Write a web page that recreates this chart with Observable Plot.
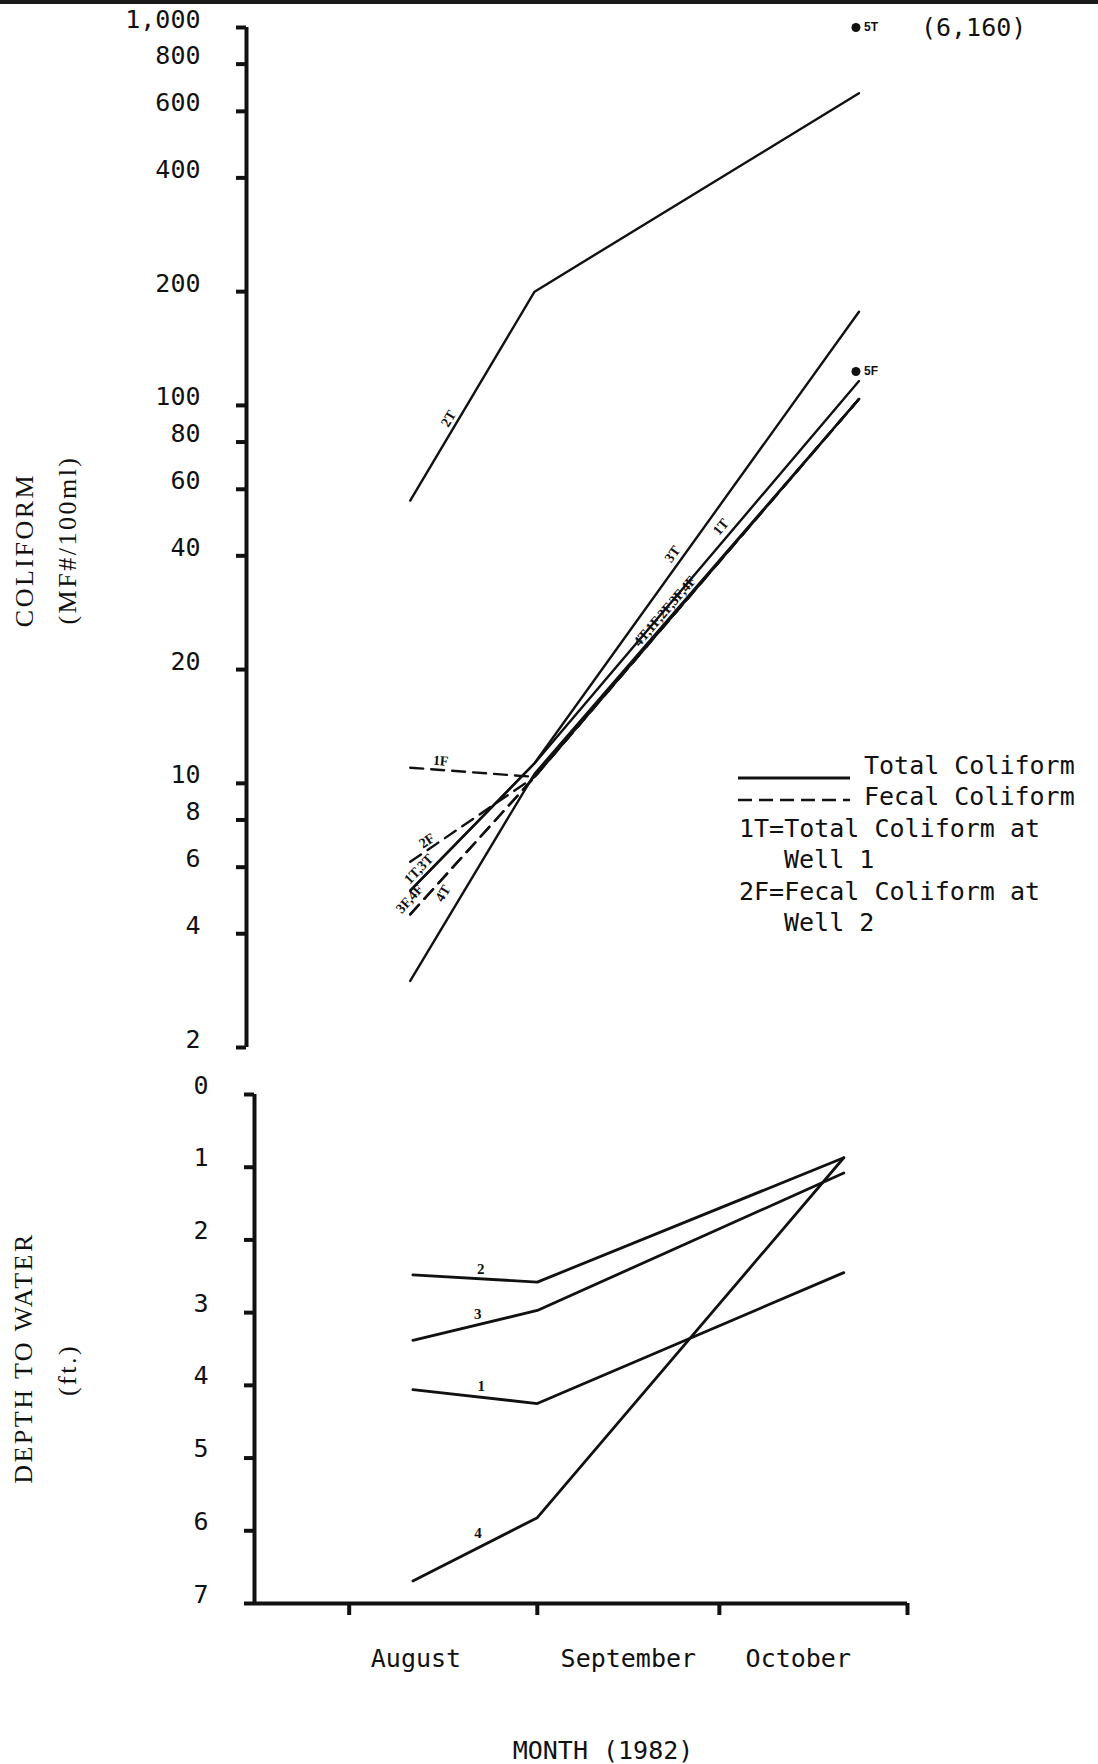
<!DOCTYPE html>
<html>
<head>
<meta charset="utf-8">
<script src="https://cdn.jsdelivr.net/npm/d3@7"></script>
<script src="https://cdn.jsdelivr.net/npm/@observablehq/plot@0.6"></script>
<style>
html,body{margin:0;padding:0;background:#fff;}
#root{position:relative;width:1098px;height:1764px;overflow:hidden;background:#fff;}
.abs{position:absolute;white-space:pre;color:#111;line-height:1;}
.mono{font-family:"DejaVu Sans Mono",monospace;font-size:25px;}
.serif{font-family:"Liberation Serif",serif;font-size:26px;letter-spacing:2.5px;}
.vt{transform:translate(-50%,-50%) rotate(-90deg);}
.lg{transform:translateY(-50%);}
.panel{position:absolute;left:0;}
</style>
</head>
<body>
<div id="root"></div>
<script>
// ---------------- data ----------------
const months = ["August", "September", "October"];
const monthStartDays = [0, 31, 61, 92];      // Aug 1, Sep 1, Oct 1, Nov 1 (days since Aug 1, 1982)
const monthLabelDays = [11, 46, 74];
const coliformDays = [10, 30.5, 84];          // sampling days, coliform
const depthDays = [10.5, 31, 81.5];           // measuring days, depth to water

// Total coliform (MF#/100ml) at wells 1-4
const total1 = [5.2, 11.3, 116];
const total2 = [56, 200, 670];
const total3 = [5.2, 11.3, 177];
const total4 = [3.0, 10.6, 104];
// Fecal coliform at wells 1-4
const fecal1 = [11.0, 10.4, 104];
const fecal2 = [6.2, 10.4, 104];
const fecal3 = [4.5, 10.4, 104];
const fecal4 = [4.5, 10.4, 104];
// Well 5 (October only)
const well5Day = 83.5;
const total5 = 6160;
const fecal5 = 123;

// Depth to water (ft.)
const depth1 = [4.06, 4.25, 2.45];
const depth2 = [2.48, 2.58, 0.87];
const depth3 = [3.38, 2.97, 1.08];
const depth4 = [6.69, 5.82, 0.87];

const coliformTicks = [1000, 800, 600, 400, 200, 100, 80, 60, 40, 20, 10, 8, 6, 4, 2];
const depthTicks = [0, 1, 2, 3, 4, 5, 6, 7];

// ---------------- layout ----------------
const W = 1098;
const ink = "#111";
const topCfg = {height: 1064, marginTop: 27, marginBottom: 17, marginLeft: 246, marginRight: 191};
const topX = [-17, 92];
const topY = [2, 1000];
const botCfg = {offset: 1060, height: 704, marginTop: 34, marginBottom: 161, marginLeft: 254, marginRight: 191};
const botX = [-15.6, 92];
const botY = [0, 7];

const xsT = d3.scaleLinear(topX, [topCfg.marginLeft, W - topCfg.marginRight]);
const ysT = d3.scaleLog(topY, [topCfg.height - topCfg.marginBottom, topCfg.marginTop]);
const xsB = d3.scaleLinear(botX, [botCfg.marginLeft, W - botCfg.marginRight]);
const ysB = d3.scaleLinear(botY, [botCfg.marginTop, botCfg.height - botCfg.marginBottom]);

function rows(map, days, key) {
  return Object.entries(map).flatMap(([name, vals]) =>
    vals.map((v, i) => ({series: name, day: days[i], [key]: v})));
}
const totalRows = rows({"1T": total1, "2T": total2, "3T": total3, "4T": total4}, coliformDays, "value");
const fecalRows = rows({"1F": fecal1, "2F": fecal2, "3F": fecal3, "4F": fecal4}, coliformDays, "value");
const depthRows = rows({"1": depth1, "2": depth2, "3": depth3, "4": depth4}, depthDays, "depth");

function segLabel(spec, days, xs, ys, rotate) {
  const i = spec.seg || 0;
  const x0 = xs(days[i]), y0 = ys(spec.values[i]);
  const x1 = xs(days[i + 1]), y1 = ys(spec.values[i + 1]);
  const dx = x1 - x0, dy = y1 - y0, len = Math.hypot(dx, dy);
  const nx = dy / len, ny = -dx / len;
  const px = x0 + dx * spec.t + nx * spec.off, py = y0 + dy * spec.t + ny * spec.off;
  return {text: spec.text, x: xs.invert(px), y: ys.invert(py),
          angle: rotate ? Math.atan2(dy, dx) * 180 / Math.PI : 0};
}

const topLabelSpecs = [
  {text: "2T", values: total2, seg: 0, t: 0.37, off: 9},
  {text: "3T", values: total3, seg: 1, t: 0.45, off: 10},
  {text: "1T", values: total1, seg: 1, t: 0.60, off: 11},
  {text: "4T,1F,2F,3F,4F", values: total4, seg: 1, t: 0.42, off: 8},
  {text: "1F", values: fecal1, seg: 0, t: 0.24, off: 9},
  {text: "2F", values: fecal2, seg: 0, t: 0.17, off: 8},
  {text: "1T,3T", values: total1, seg: 0, t: 0.12, off: 9},
  {text: "3F,4F", values: fecal3, seg: 0, t: 0.06, off: 11},
  {text: "4T", values: total4, seg: 0, t: 0.38, off: 17}
];
const topLabels = topLabelSpecs.map(s => segLabel(s, coliformDays, xsT, ysT, true));

const botLabelSpecs = [
  {text: "1", values: depth1, seg: 0, t: 0.54, off: 11},
  {text: "2", values: depth2, seg: 0, t: 0.54, off: 10},
  {text: "3", values: depth3, seg: 0, t: 0.54, off: 10},
  {text: "4", values: depth4, seg: 0, t: 0.57, off: 13}
];
const botLabels = botLabelSpecs.map(s => segLabel(s, depthDays, xsB, ysB, false));

const well5 = [
  {label: "5T", day: well5Day, value: Math.min(total5, topY[1])},
  {label: "5F", day: well5Day, value: fecal5}
];

const font = "DejaVu Sans Mono";

// ---------------- top panel: coliform ----------------
const topPlot = Plot.plot({
  width: W, height: topCfg.height,
  marginTop: topCfg.marginTop, marginBottom: topCfg.marginBottom,
  marginLeft: topCfg.marginLeft, marginRight: topCfg.marginRight,
  style: {fontFamily: font, color: ink, background: "transparent", overflow: "visible"},
  x: {domain: topX, axis: null},
  y: {type: "log", domain: topY, axis: null},
  marks: [
    Plot.ruleX([topX[0]], {y1: topY[0], y2: topY[1], stroke: ink, strokeWidth: 4}),
    Plot.axisY({ticks: coliformTicks, tickSize: 10, strokeWidth: 4, tickFormat: () => "", label: null}),
    Plot.text(coliformTicks, {x: () => topX[0], y: d => d, text: d3.format(","), dx: -46, dy: -8,
                              textAnchor: "end", fontSize: 25, fill: ink}),
    Plot.line(fecalRows, {x: "day", y: "value", z: "series", stroke: ink, strokeWidth: 2.4,
                          strokeDasharray: "13,8"}),
    Plot.line(totalRows, {x: "day", y: "value", z: "series", stroke: ink, strokeWidth: 2.4}),
    Plot.dot(well5, {x: "day", y: "value", r: 4.5, fill: ink}),
    Plot.text(well5, {x: "day", y: "value", text: "label", dx: 8, textAnchor: "start",
                      fontSize: 12, fontWeight: "bold", fontFamily: "Liberation Sans"}),
    Plot.text([total5], {x: () => well5Day, y: () => topY[1], text: d => `(${d3.format(",")(d)})`,
                         dx: 65, textAnchor: "start", fontSize: 25}),
    Plot.text(topLabels, {x: "x", y: "y", text: "text", rotate: "angle", fontSize: 14,
                          fontWeight: "bold", fontFamily: "Liberation Serif"})
  ]
});

// ---------------- bottom panel: depth to water ----------------
const botPlot = Plot.plot({
  width: W, height: botCfg.height,
  marginTop: botCfg.marginTop, marginBottom: botCfg.marginBottom,
  marginLeft: botCfg.marginLeft, marginRight: botCfg.marginRight,
  style: {fontFamily: font, color: ink, background: "transparent", overflow: "visible"},
  x: {domain: botX},
  y: {domain: botY, reverse: true},
  marks: [
    Plot.ruleX([botX[0]], {y1: botY[0], y2: botY[1], stroke: ink, strokeWidth: 4}),
    Plot.ruleY([botY[1]], {x1: botX[0], x2: botX[1], stroke: ink, strokeWidth: 4}),
    Plot.axisY({ticks: depthTicks, tickSize: 10, strokeWidth: 4, tickFormat: () => "", label: null}),
    Plot.text(depthTicks, {x: () => botX[0], y: d => d, text: d => String(d), dx: -46, dy: -9,
                           textAnchor: "end", fontSize: 25, fill: ink}),
    Plot.axisX({ticks: monthStartDays, tickSize: 12, strokeWidth: 4, tickFormat: () => "", label: null}),
    Plot.text(months, {x: (d, i) => monthLabelDays[i], frameAnchor: "bottom", dy: 63, fontSize: 25}),
    Plot.line(depthRows, {x: "day", y: "depth", z: "series", stroke: ink, strokeWidth: 2.8}),
    Plot.text(botLabels, {x: "x", y: "y", text: "text", fontSize: 15, fontWeight: "bold",
                          fontFamily: "Liberation Serif"})
  ]
});

// ---------------- assemble ----------------
const root = document.getElementById("root");
const band = document.createElement("div");
band.style.cssText = "position:absolute;left:0;top:0;width:1098px;height:4px;background:#1a1a1a;";
root.appendChild(band);

topPlot.classList.add("panel");
topPlot.style.top = "0px";
root.appendChild(topPlot);
botPlot.classList.add("panel");
botPlot.style.top = botCfg.offset + "px";
root.appendChild(botPlot);

function addText(txt, cls, left, topPx, extra) {
  const d = document.createElement("div");
  d.className = "abs " + cls;
  d.textContent = txt;
  d.style.left = left + "px";
  d.style.top = topPx + "px";
  if (extra) d.style.cssText += extra;
  root.appendChild(d);
  return d;
}

// axis titles
addText("COLIFORM", "serif vt", 25, 550);
addText("(MF#/100ml)", "serif vt", 68, 540);
addText("DEPTH TO WATER", "serif vt", 24, 1358);
addText("(ft.)", "serif vt", 68, 1370);
addText("MONTH (1982)", "mono", 603, 1750, "transform:translate(-50%,-50%);");

// legend
const lg = document.createElementNS("http://www.w3.org/2000/svg", "svg");
lg.setAttribute("width", "120"); lg.setAttribute("height", "40");
lg.style.cssText = "position:absolute;left:736px;top:768px;";
lg.innerHTML =
  `<line x1="2" x2="114" y1="10" y2="10" stroke="${ink}" stroke-width="3"/>` +
  `<line x1="2" x2="114" y1="32" y2="32" stroke="${ink}" stroke-width="2.6" stroke-dasharray="14,7"/>`;
root.appendChild(lg);
addText("Total Coliform", "mono lg", 864, 765);
addText("Fecal Coliform", "mono lg", 864, 796);
addText("1T=Total Coliform at", "mono lg", 739, 828);
addText("Well 1", "mono lg", 784, 859);
addText("2F=Fecal Coliform at", "mono lg", 739, 891);
addText("Well 2", "mono lg", 784, 922);
</script>
</body>
</html>
